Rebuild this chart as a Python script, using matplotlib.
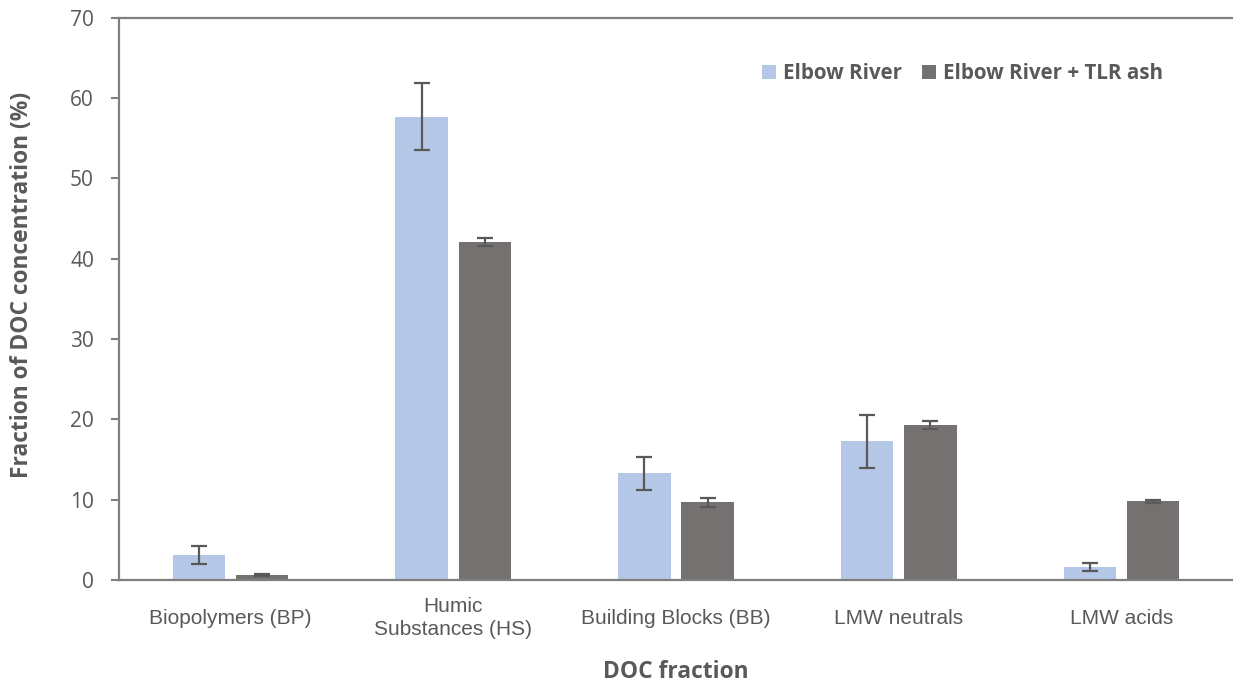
import numpy as np
from matplotlib import pyplot as plt

categories = ["Biopolymers (BP)", "Humic\nSubstances (HS)", "Building Blocks (BB)", "LMW neutrals", "LMW acids"]
river = [3.1, 57.7, 13.3, 17.3, 1.6]
river_err = [1.15, 4.2, 2.05, 3.3, 0.5]
ash = [0.6, 42.1, 9.7, 19.3, 9.8]
ash_err = [0.15, 0.5, 0.55, 0.5, 0.15]
series_names = ["Elbow River", "Elbow River + TLR ash"]

blue = "#B4C7E7"
grey = "#767171"
axis_col = "#7F7F7F"
text_col = "#595959"

fig = plt.figure(figsize=(12.33, 6.86), dpi=100)
ax = fig.add_axes([0.0965, 0.1545, 0.9035, 0.8195])

x = np.arange(len(categories))
w = 0.235
off = 0.142
ax.bar(x - off, river, w, color=blue, label=series_names[0],
       yerr=river_err, error_kw=dict(ecolor="#595959", elinewidth=1.6, capsize=6, capthick=1.6))
ax.bar(x + off, ash, w, color=grey, label=series_names[1],
       yerr=ash_err, error_kw=dict(ecolor="#595959", elinewidth=1.6, capsize=6, capthick=1.6))

ax.set_xlim(-0.5, len(categories) - 0.5)
ax.set_ylim(0, 70)
ax.set_yticks(range(0, 71, 10))
ax.set_xticks(x)
ax.set_xticklabels(categories, fontfamily="Liberation Sans", fontsize=15, color=text_col,
                   linespacing=1.25)
for lbl in ax.get_yticklabels():
    lbl.set_fontfamily("Open Sans")
    lbl.set_fontsize(15)
    lbl.set_color(text_col)

ax.tick_params(axis="x", length=0)
ax.tick_params(axis="y", length=6, width=1.5, color=axis_col, pad=12, direction="out")
for lbl in ax.get_xticklabels():
    lbl.set_verticalalignment("center")
    lbl.set_y(-0.059)

ax.spines["right"].set_visible(False)
for s in ["left", "bottom", "top"]:
    ax.spines[s].set_color(axis_col)
    ax.spines[s].set_linewidth(1.6)

ax.set_ylabel("Fraction of DOC concentration (%)", fontfamily="Open Sans", fontweight="bold",
              fontsize=16.4, color=text_col, va="center")
ax.yaxis.set_label_coords(-0.087, 0.525)
ax.set_xlabel("DOC fraction", fontfamily="Open Sans", fontweight="bold",
              fontsize=16.4, color=text_col, va="center")
ax.xaxis.set_label_coords(0.5, -0.164)

leg = ax.legend(loc="upper right", bbox_to_anchor=(0.954, 0.952), ncol=2, frameon=False,
                prop=dict(family="Open Sans", weight="bold", size=14.8),
                handlelength=0.7, handleheight=0.7, handletextpad=0.35, columnspacing=0.95)
for t in leg.get_texts():
    t.set_color(text_col)

fig.savefig("out.png", dpi=100)
